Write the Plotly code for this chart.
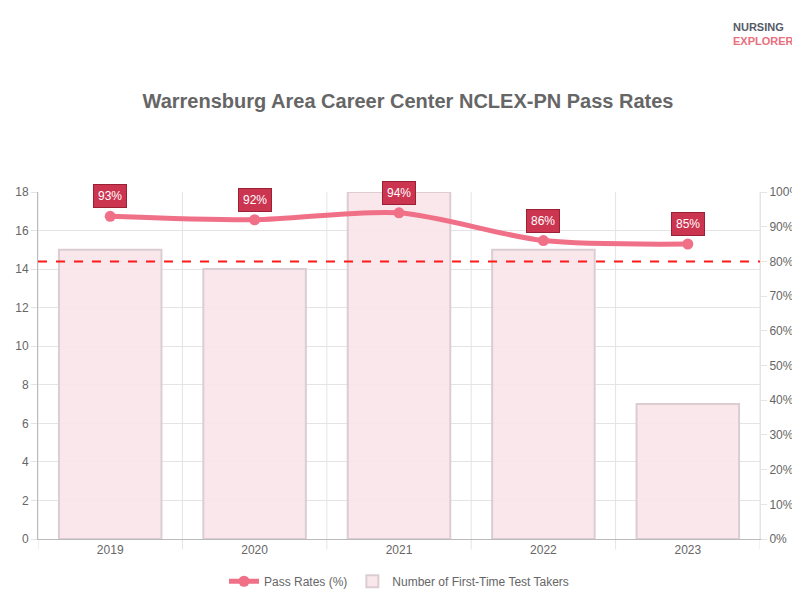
import plotly.graph_objects as go

years = ["2019", "2020", "2021", "2022", "2023"]
test_takers = [15, 14, 18, 15, 7]
pass_rates = [93, 92, 94, 86, 85]
benchmark = 80

xs = list(range(len(years)))
FONT = "Liberation Sans, Arial"

fig = go.Figure()
fig.add_trace(go.Scatter(
    x=xs, y=pass_rates, name="Pass Rates (%)", yaxis="y2",
    mode="lines+markers", line=dict(color="#f07088", width=5, shape="spline", smoothing=0.8),
    marker=dict(size=11, color="#f07088"),
))
fig.add_trace(go.Bar(
    x=xs, y=test_takers, name="Number of First-Time Test Takers",
    marker=dict(color="rgba(248,228,234,0.9)", line=dict(color="#dccdd2", width=2)),
    width=0.71,
))

# vertical grid lines at category boundaries
for b in [i - 0.5 for i in range(len(years) + 1)]:
    fig.add_shape(type="line", xref="x", yref="paper", x0=b, x1=b, y0=-0.03, y1=1,
                  line=dict(color="#e4e4e4", width=1), layer="below")
fig.add_shape(type="line", xref="paper", yref="y2", x0=0, x1=1, y0=benchmark, y1=benchmark,
              line=dict(color="#ff1a1a", width=2, dash="dash"))

for x, v in zip(xs, pass_rates):
    fig.add_annotation(x=x, y=v, yref="y2", text=f"{v}%", showarrow=False, yshift=20,
                       font=dict(color="white", size=12, family=FONT),
                       bgcolor="#cc3550", bordercolor="#9a2036", borderwidth=1, borderpad=4)

fig.add_annotation(xref="paper", yref="paper", x=1.05, y=1.50, xanchor="right", showarrow=False,
                   text="<b><span style='color:#555a66'>NURSING</span><br><span style='color:#e8707e'>EXPLORER</span></b>",
                   font=dict(size=11, family=FONT), align="left")

fig.update_layout(
    width=800, height=600, plot_bgcolor="white", paper_bgcolor="white",
    margin=dict(l=30, r=48, t=184, b=63),
    title=dict(text="<b>Warrensburg Area Career Center NCLEX-PN Pass Rates</b>", x=0.5, y=0.845,
               yanchor="middle", font=dict(size=20, color="#666666", family=FONT)),
    font=dict(family=FONT, color="#666666", size=12),
    xaxis=dict(tickvals=xs, ticktext=years, range=[-0.5, 4.5], showgrid=False, automargin=False,
               showline=True, linecolor="#bbbbbb", ticks=""),
    yaxis=dict(range=[0, 18], dtick=2, gridcolor="#e4e4e4", showline=True, linecolor="#bbbbbb",
               zeroline=False, ticks="outside", ticklen=6, tickcolor="#e4e4e4", automargin=False),
    yaxis2=dict(range=[0, 100], dtick=10, overlaying="y", side="right", ticksuffix="%",
                showgrid=False, showline=True, linecolor="#e4e4e4", zeroline=False, automargin=False,
                ticks="outside", ticklen=6, tickcolor="#e4e4e4"),
    legend=dict(orientation="h", x=0.5, xanchor="center", y=-0.08, yanchor="top",
                traceorder="normal", font=dict(size=12)),
    showlegend=True,
)
fig.write_html("out.html")
